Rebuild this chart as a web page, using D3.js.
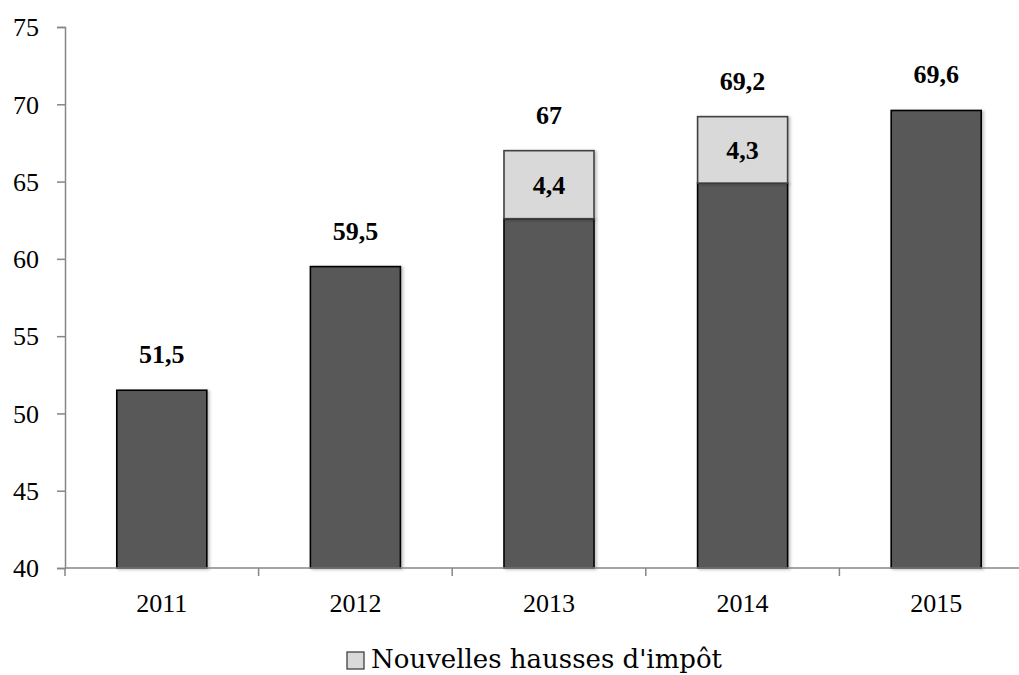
<!DOCTYPE html>
<html>
<head>
<meta charset="utf-8">
<script src="https://cdn.jsdelivr.net/npm/d3@7/dist/d3.min.js"></script>
<style>
  html, body { margin: 0; padding: 0; background: #fff; }
  svg { display: block; }
  .tick text { font-family: "Liberation Serif", serif; font-size: 26px; fill: #000; }
  .val { font-family: "Liberation Serif", serif; font-size: 26px; font-weight: bold; fill: #000; }
  .legend text { font-family: "DejaVu Serif", serif; font-size: 26px; fill: #000; }
</style>
</head>
<body>
<svg id="chart" width="1019" height="675"></svg>
<script>
// Years on the category axis
const years = ["2011", "2012", "2013", "2014", "2015"];
// Total value per year (label above each bar)
const totals = [51.5, 59.5, 67, 69.2, 69.6];
// Part of the total due to new tax increases (light segment)
const newTaxes = [0, 0, 4.4, 4.3, 0];
// Value axis ticks
const yTicks = [40, 45, 50, 55, 60, 65, 70, 75];
const legendLabel = "Nouvelles hausses d'impôt";

const rows = years.map((year, i) => {
  const total = totals[i];
  const inc = newTaxes[i];
  return { year, total, inc, base: Math.round((total - inc) * 10) / 10 };
});

const fmt = v => String(Math.round(v * 10) / 10).replace(".", ",");

const svg = d3.select("#chart");
const plotLeft = 65, plotRight = 1033, plotTop = 27, plotBottom = 568;

const y = d3.scaleLinear().domain([40, 75]).range([plotBottom, plotTop]);
const x = d3.scaleBand().domain(years).range([plotLeft, plotRight])
  .paddingInner(0.535).paddingOuter(0.535 / 2);
const xCell = d3.scaleBand().domain(years).range([plotLeft, plotRight]).padding(0);

// soft shadow under the bars
const defs = svg.append("defs");
const f = defs.append("filter").attr("id", "shadow")
  .attr("x", "-10%").attr("y", "-10%").attr("width", "130%").attr("height", "130%");
f.append("feDropShadow").attr("dx", 2).attr("dy", 1).attr("stdDeviation", 1.5)
  .attr("flood-color", "#000").attr("flood-opacity", 0.25);

// y axis
const yAxis = svg.append("g").attr("transform", `translate(${plotLeft},0)`)
  .call(d3.axisLeft(y).tickValues(yTicks).tickSize(8).tickPadding(18).tickFormat(d3.format("d")));
yAxis.select(".domain").attr("stroke", "#868686").attr("stroke-width", 1.5);
yAxis.selectAll(".tick line").attr("stroke", "#868686").attr("stroke-width", 1.5);
yAxis.selectAll(".tick text").attr("dy", "0.34em");

// bars
const bars = svg.append("g");
bars.selectAll("rect.base").data(rows).join("rect")
  .attr("class", "base")
  .attr("x", d => x(d.year)).attr("width", x.bandwidth())
  .attr("y", d => y(d.base)).attr("height", d => y(40) - y(d.base))
  .attr("fill", "#595959").attr("stroke", "#000").attr("stroke-width", 1.6)
  .attr("filter", "url(#shadow)");
bars.selectAll("rect.inc").data(rows.filter(d => d.inc > 0)).join("rect")
  .attr("class", "inc")
  .attr("x", d => x(d.year)).attr("width", x.bandwidth())
  .attr("y", d => y(d.total)).attr("height", d => y(d.base) - y(d.total))
  .attr("fill", "#d9d9d9").attr("stroke", "#404040").attr("stroke-width", 1.6)
  .attr("filter", "url(#shadow)");

// x axis
const xAxis = svg.append("g").attr("transform", `translate(0,${plotBottom})`);
xAxis.append("line").attr("x1", plotLeft).attr("x2", plotRight).attr("y1", 0).attr("y2", 0)
  .attr("stroke", "#868686").attr("stroke-width", 1.5);
const boundaries = years.map(yr => xCell(yr)).concat([plotRight]);
xAxis.selectAll("line.tk").data(boundaries).join("line").attr("class", "tk")
  .attr("x1", d => d).attr("x2", d => d).attr("y1", 0).attr("y2", 8)
  .attr("stroke", "#868686").attr("stroke-width", 1.5);
const xLab = svg.append("g").attr("transform", `translate(0,${plotBottom})`)
  .call(d3.axisBottom(x).tickSize(0));
xLab.select(".domain").remove();
xLab.selectAll(".tick text").attr("y", 44).attr("dy", 0);

// total labels
svg.append("g").selectAll("text").data(rows).join("text")
  .attr("class", "val").attr("text-anchor", "middle")
  .attr("x", d => x(d.year) + x.bandwidth() / 2)
  .attr("y", d => y(d.total) - 27)
  .text(d => fmt(d.total));

// increment labels inside light segments
svg.append("g").selectAll("text").data(rows.filter(d => d.inc > 0)).join("text")
  .attr("class", "val").attr("text-anchor", "middle")
  .attr("x", d => x(d.year) + x.bandwidth() / 2)
  .attr("y", d => (y(d.total) + y(d.base)) / 2)
  .attr("dy", "0.34em")
  .text(d => fmt(d.inc));

// legend
const lg = svg.append("g").attr("class", "legend");
lg.append("rect").attr("x", 347).attr("y", 652).attr("width", 17).attr("height", 17)
  .attr("fill", "#d9d9d9").attr("stroke", "#404040").attr("stroke-width", 1.3);
lg.append("text").attr("x", 371).attr("y", 668).text(legendLabel);
</script>
</body>
</html>
